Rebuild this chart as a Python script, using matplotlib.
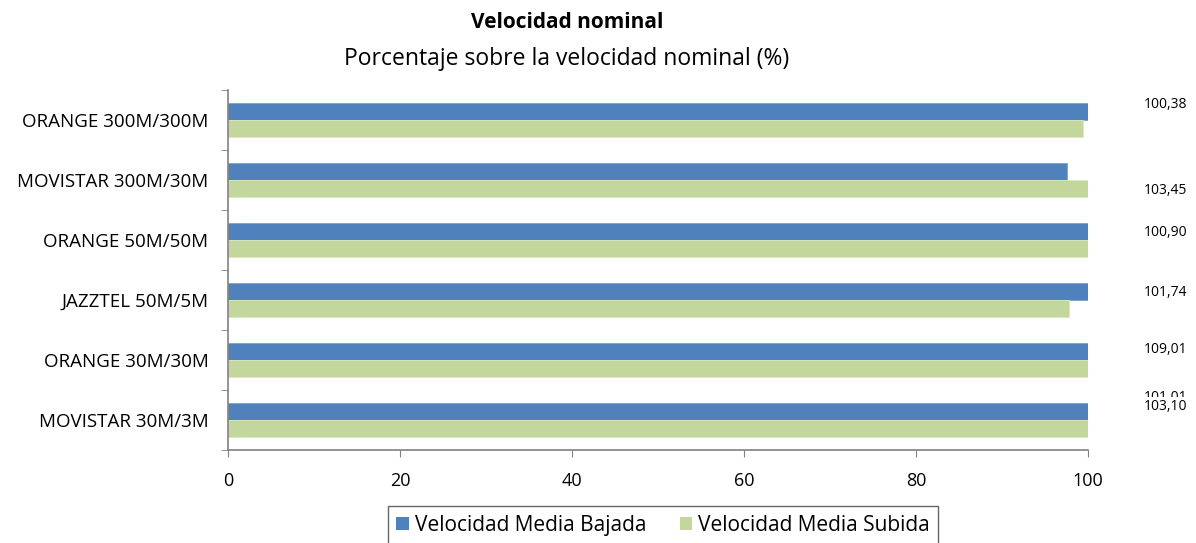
import matplotlib
matplotlib.use("Agg")
import matplotlib.pyplot as plt
import numpy as np
from matplotlib.patches import Patch

plt.rcParams['font.family'] = ['Open Sans', 'DejaVu Sans']

categories = ["ORANGE 300M/300M", "MOVISTAR 300M/30M", "ORANGE 50M/50M",
              "JAZZTEL 50M/5M", "ORANGE 30M/30M", "MOVISTAR 30M/3M"]
bajada = [100.38, 97.6, 100.90, 101.74, 109.01, 103.10]
subida = [99.4, 103.45, 100.5, 97.8, 101.01, 101.0]
label_texts = ["100,38", "103,45", "100,90", "101,74", "109,01", "101,01", "103,10"]
label_y = [-0.25, 1.17, 1.88, 2.88, 3.83, 4.62, 4.77]

blue = "#4F81BD"
green = "#C3D69B"

fig = plt.figure(figsize=(11.96, 5.43), dpi=100)
ax = fig.add_axes([0.1906, 0.1713, 0.7191, 0.663])

y = np.arange(len(categories))
h = 0.285
ax.barh(y - h/2, bajada, height=h, color=blue, edgecolor="#7EA3D1", linewidth=0.6)
ax.barh(y + h/2, subida, height=h, color=green, edgecolor="#DCE8C4", linewidth=0.6)

ax.set_xlim(0, 100)
ax.set_ylim(len(categories) - 0.5, -0.5)
ax.set_xticks([0, 20, 40, 60, 80, 100])
ax.tick_params(axis='x', labelsize=13, length=5, color="#808080", pad=11)
ax.set_yticks(y)
ax.set_yticklabels(categories, fontsize=13.5)
ax.tick_params(axis='y', length=0, pad=14)
ax.set_yticks(np.arange(-0.5, len(categories)), minor=True)
ax.tick_params(axis='y', which='minor', length=5, color="#808080")
for s in ['top', 'right']:
    ax.spines[s].set_visible(False)
for s in ['left', 'bottom']:
    ax.spines[s].set_color("#808080")
    ax.spines[s].set_linewidth(1.2)

for i, (t, yy) in enumerate(zip(label_texts, label_y)):
    kw = {}
    if i == len(label_texts) - 1:
        kw = dict(bbox=dict(facecolor='white', edgecolor='none', pad=1.5))
    ax.text(109.0, yy, t, ha='center', va='center', fontsize=10, clip_on=False, **kw)

fig.text(0.474, 0.958, "Velocidad nominal", ha='center', va='center', fontsize=15, fontweight='bold')
fig.text(0.474, 0.892, "Porcentaje sobre la velocidad nominal (%)", ha='center', va='center', fontsize=16.5)

handles = [Patch(facecolor=blue, label="Velocidad Media Bajada"),
           Patch(facecolor=green, label="Velocidad Media Subida")]
leg = fig.legend(handles=handles, loc='center', bbox_to_anchor=(0.5544, 0.033), ncol=2,
                 fontsize=15, frameon=True, fancybox=False, handlelength=0.6, handleheight=0.6,
                 handletextpad=0.3, columnspacing=1.6, borderpad=0.4, borderaxespad=0)
leg.get_frame().set_edgecolor("#404040")
leg.get_frame().set_linewidth(1.0)

fig.savefig("out.png", dpi=100)
